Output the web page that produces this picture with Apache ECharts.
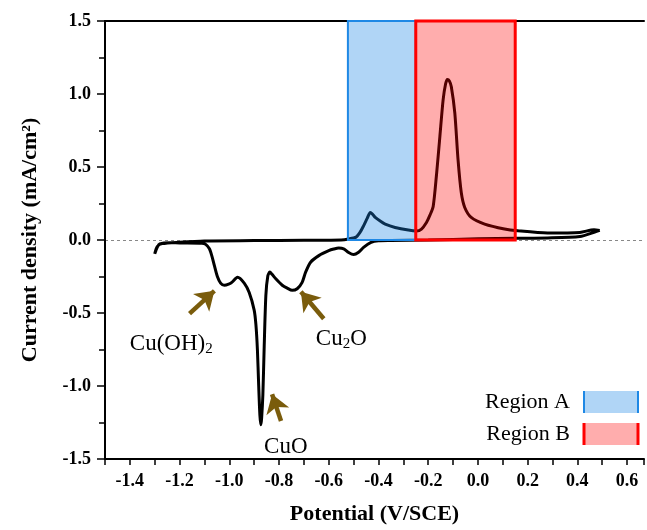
<!DOCTYPE html>
<html>
<head>
<meta charset="utf-8">
<script src="https://cdn.jsdelivr.net/npm/echarts@6/dist/echarts.min.js"></script>
<style>
    html, body {margin: 0; padding: 0; background: #fff;}
    #chart {width: 647px; height: 530px;}
</style>
</head>
<body>
<div id="chart"></div>
<script>
// cathodic sweep, 0.49 V down to -1.30 V
const cathodic_x = [0.49, 0.47, 0.41, 0.28, 0.15, 0.0, -0.2, -0.35, -0.40, -0.43, -0.46, -0.48, -0.50, -0.52, -0.54, -0.56, -0.58, -0.60, -0.64, -0.673, -0.693, -0.707, -0.727, -0.747, -0.767, -0.787, -0.813, -0.828, -0.837, -0.845, -0.853, -0.86, -0.865, -0.870, -0.873, -0.877, -0.882, -0.887, -0.893, -0.90, -0.92, -0.94, -0.967, -0.99, -1.0, -1.02, -1.035, -1.048, -1.06, -1.07, -1.08, -1.095, -1.11, -1.2, -1.24, -1.28, -1.29, -1.30];
const cathodic_y = [0.066, 0.055, 0.024, 0.014, 0.012, 0.008, 0.0, -0.003, -0.005, -0.016, -0.05, -0.084, -0.1, -0.086, -0.06, -0.055, -0.062, -0.073, -0.107, -0.152, -0.22, -0.29, -0.334, -0.345, -0.33, -0.31, -0.266, -0.235, -0.22, -0.245, -0.38, -0.75, -1.06, -1.22, -1.266, -1.2, -0.99, -0.75, -0.58, -0.48, -0.36, -0.295, -0.255, -0.29, -0.30, -0.31, -0.295, -0.25, -0.175, -0.11, -0.06, -0.03, -0.022, -0.02, -0.018, -0.027, -0.05, -0.095];
// anodic sweep, -1.30 V back up to 0.49 V
const anodic_x = [-1.30, -1.29, -1.27, -1.2, -1.1, -0.9, -0.7, -0.55, -0.52, -0.49, -0.475, -0.46, -0.445, -0.433, -0.423, -0.413, -0.393, -0.373, -0.333, -0.28, -0.247, -0.227, -0.207, -0.193, -0.18, -0.167, -0.153, -0.14, -0.13, -0.123, -0.115, -0.107, -0.093, -0.08, -0.067, -0.053, -0.027, 0.027, 0.107, 0.16, 0.28, 0.41, 0.467, 0.49];
const anodic_y = [-0.095, -0.045, -0.025, -0.015, -0.006, -0.004, -0.002, 0.0, 0.007, 0.02, 0.05, 0.097, 0.15, 0.189, 0.175, 0.155, 0.13, 0.109, 0.086, 0.068, 0.062, 0.075, 0.12, 0.17, 0.23, 0.44, 0.71, 0.96, 1.07, 1.10, 1.09, 1.05, 0.87, 0.55, 0.325, 0.223, 0.155, 0.109, 0.075, 0.063, 0.048, 0.052, 0.07, 0.066];

const region_names = ['Region A', 'Region B'];
const region_from = [-0.523, -0.25];
const region_to = [-0.25, 0.15];

// arrows: [tail, head] in data units, and label anchors
const arrow_tails = [[-1.16, -0.504], [-0.792, -1.24], [-0.62, -0.539]];
const arrow_heads = [[-1.06, -0.348], [-0.828, -1.057], [-0.712, -0.354]];
const label_texts = ['Cu(OH){sub|2}', 'CuO', 'Cu{sub|2}O'];
const label_pos = [[-1.40, -0.715], [-0.86, -1.415], [-0.652, -0.68]];

const serif = '"Liberation Serif", "Times New Roman", serif';
const arrow_color = '#7a5c0c';

let cv_data = [];
for (let i = 0; i < cathodic_x.length; i++) cv_data.push([cathodic_x[i], cathodic_y[i]]);
for (let i = 0; i < anodic_x.length; i++) cv_data.push([anodic_x[i], anodic_y[i]]);

const region_fill = ['rgba(30,136,229,0.35)', 'rgba(255,0,0,0.32)'];
const region_border = ['#1e88e5', '#ff0000'];
const region_bw = [2, 3];

let region_series = region_names.map((name, i) => ({
    name: name, type: 'line', data: [], z: 5,
    markArea: {
        silent: true, z: 10 + i,
        itemStyle: {color: region_fill[i], borderColor: region_border[i], borderWidth: region_bw[i]},
        data: [[{xAxis: region_from[i], yAxis: 0}, {xAxis: region_to[i], yAxis: 1.5}]]
    }
}));

let option = {
    animation: false,
    grid: {left: 105, top: 21, right: 0, bottom: 68},
    xAxis: [{
        type: 'value', min: -1.5, max: 0.668, interval: 0.1,
        name: 'Potential (V/SCE)', nameLocation: 'middle', nameGap: 44,
        nameTextStyle: {fontFamily: serif, fontWeight: 'bold', fontSize: 22, color: '#000'},
        axisLine: {onZero: false, lineStyle: {color: '#000', width: 2}},
        axisTick: {inside: false, length: 6, lineStyle: {color: '#000', width: 1.5}},
        axisLabel: {
            margin: 13, fontFamily: serif, fontWeight: 'bold', fontSize: 18, color: '#000',
            formatter: function (v) {
                let k = Math.round(v * 10);
                return (k % 2 === 0 && v <= 0.65) ? v.toFixed(1) : '';
            }
        },
        splitLine: {show: false}
    }, {
        type: 'value', position: 'top', min: -1.5, max: 0.668,
        axisLine: {show: true, onZero: false, lineStyle: {color: '#000', width: 2}},
        axisTick: {show: false}, axisLabel: {show: false}, splitLine: {show: false}
    }],
    yAxis: {
        type: 'value', min: -1.5, max: 1.5, interval: 0.5,
        name: 'Current density (mA/cm²)', nameLocation: 'middle', nameGap: 64,
        nameTextStyle: {fontFamily: serif, fontWeight: 'bold', fontSize: 22, color: '#000'},
        axisLine: {show: true, onZero: false, lineStyle: {color: '#000', width: 2}},
        axisTick: {inside: false, length: 8, lineStyle: {color: '#000', width: 1.5}},
        minorTick: {show: true, splitNumber: 2, length: 6, lineStyle: {color: '#000', width: 1.5}},
        axisLabel: {
            margin: 14, fontFamily: serif, fontWeight: 'bold', fontSize: 18, color: '#000',
            formatter: v => v.toFixed(1)
        },
        splitLine: {show: false}
    },
    series: [{
        name: 'CV', type: 'line', data: cv_data, showSymbol: false, smooth: 0.25, z: 0,
        lineStyle: {color: '#000', width: 3},
        markLine: {
            silent: true, symbol: 'none', label: {show: false}, z: 0,
            lineStyle: {color: '#888', width: 1, type: [3, 3]},
            data: [{yAxis: 0}]
        }
    }, {
        name: 'arrows', type: 'line', data: [], z: 4,
        markLine: {
            silent: true, symbol: ['none', 'arrow'], symbolSize: 18, label: {show: false},
            lineStyle: {color: arrow_color, width: 4.5, type: 'solid'},
            itemStyle: {color: arrow_color},
            data: arrow_tails.map((t, i) => [{coord: t}, {coord: arrow_heads[i]}])
        },
        markPoint: {
            silent: true, symbol: 'circle', symbolSize: 0,
            label: {
                show: true, position: 'inside', align: 'left', verticalAlign: 'middle',
                fontFamily: serif, fontSize: 23, color: '#000',
                rich: {sub: {fontFamily: serif, fontSize: 15, color: '#000', padding: [10, 0, 0, 0]}}
            },
            data: label_pos.map((p, i) => ({coord: p, value: 0, label: {formatter: label_texts[i]}}))
        }
    }].concat(region_series),
    graphic: region_names.map((name, i) => ({
        type: 'group', x: 520, y: 390 + i * 32,
        children: [
            {type: 'text', style: {text: name, x: 50, y: 12, align: 'right', verticalAlign: 'middle',
                    font: '22px ' + serif, fill: '#000'}},
            {type: 'rect', shape: {x: 64, y: 1, width: 54, height: 22}, style: {fill: region_fill[i]}},
            {type: 'line', shape: {x1: 64, y1: 1, x2: 64, y2: 23}, style: {stroke: region_border[i], lineWidth: region_bw[i]}},
            {type: 'line', shape: {x1: 118, y1: 1, x2: 118, y2: 23}, style: {stroke: region_border[i], lineWidth: region_bw[i]}}
        ]
    }))
};

let my_chart = echarts.init(document.getElementById('chart'));
my_chart.setOption(option);
</script>
</body>
</html>
